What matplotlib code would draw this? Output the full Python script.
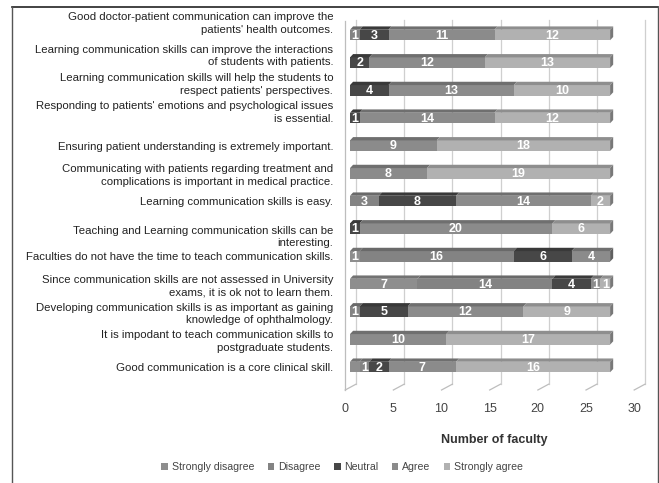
import matplotlib
matplotlib.use("Agg")
import matplotlib.pyplot as plt
import matplotlib.transforms as mtransforms
from matplotlib.patches import Polygon, Patch
from matplotlib.lines import Line2D
import numpy as np

plt.rcParams['font.family'] = ['Liberation Sans', 'DejaVu Sans']

statements = [
    "Good doctor-patient communication can improve the\npatients' health outcomes.",
    "Learning communication skills can improve the interactions\nof students with patients.",
    "Learning communication skills will help the students to\nrespect patients' perspectives.",
    "Responding to patients' emotions and psychological issues\nis essential.",
    "Ensuring patient understanding is extremely important.",
    "Communicating with patients regarding treatment and\ncomplications is important in medical practice.",
    "Learning communication skills is easy.",
    "Teaching and Learning communication skills can be\ninteresting.",
    "Faculties do not have the time to teach communication skills.",
    "Since communication skills are not assessed in University\nexams, it is ok not to learn them.",
    "Developing communication skills is as important as gaining\nknowledge of ophthalmology.",
    "It is impodant to teach communication skills to\npostgraduate students.",
    "Good communication is a core clinical skill.",
]

responses = ["Strongly disagree", "Disagree", "Neutral", "Agree", "Strongly agree"]

strongly_disagree = [0, 0, 0, 0, 0, 0, 0, 0, 1, 7, 0, 0, 1]
disagree          = [1, 0, 0, 0, 0, 0, 3, 0, 16, 14, 1, 0, 1]
neutral           = [3, 2, 4, 1, 0, 0, 8, 1, 6, 4, 5, 0, 2]
agree             = [11, 12, 13, 14, 9, 8, 14, 20, 4, 1, 12, 10, 7]
strongly_agree    = [12, 13, 10, 12, 18, 19, 2, 6, 0, 1, 9, 17, 16]

colors = ["#8e8e8e", "#838383", "#474747", "#8b8b8b", "#b1b1b1"]

# data labels that are hidden (row, response)
hidden_labels = {(12, 0)}

# vertical nudge (px) for the crowded statement labels
label_shift = [14, 9, 8, 8, 0, 0, 0, -6, 0, 0, 0, 0, 0]

fig = plt.figure(figsize=(6.59, 4.83), dpi=100)
ax = fig.add_axes([350 / 659, 93 / 483, 289 / 659, 372 / 483])

series = [strongly_disagree, disagree, neutral, agree, strongly_agree]
y = np.arange(len(statements))
h = 0.38
dx, dy = 0.32, 0.12  # depth of the pseudo-3D faces

def shade(c, f):
    r, g, b = matplotlib.colors.to_rgb(c)
    return (r * f, g * f, b * f)

left = np.zeros(len(statements))
totals = np.sum(series, axis=0)
for k, (vals, col) in enumerate(zip(series, colors)):
    vals = np.array(vals, dtype=float)
    ax.barh(y, vals, left=left, height=h, color=col, zorder=3)
    for i in range(len(y)):
        if vals[i] <= 0:
            continue
        l, w, top = left[i], vals[i], y[i] - h / 2
        ax.add_patch(Polygon([(l, top), (l + w, top), (l + w + dx, top - dy), (l + dx, top - dy)],
                             closed=True, facecolor=shade(col, 0.8), edgecolor='none', zorder=3))
        if np.isclose(l + w, totals[i]):
            ax.add_patch(Polygon([(l + w, top), (l + w + dx, top - dy), (l + w + dx, top + h - dy), (l + w, top + h)],
                                 closed=True, facecolor=shade(col, 0.68), edgecolor='none', zorder=3))
        if (i, k) not in hidden_labels:
            ax.text(l + w / 2, y[i] + 0.02, str(int(w)), ha='center', va='center', color='white',
                    fontsize=9, fontweight='bold', zorder=4)
    left += vals

ax.set_xlim(0, 30)
ax.set_ylim(12.83, -0.614)

# back-wall gridlines, left wall and floor
shift = mtransforms.ScaledTranslation(6 / 100, 0, fig.dpi_scale_trans)
for xv in range(0, 31, 5):
    ax.plot([xv, xv], [12.62, -0.55], color="#cfcfcf", lw=0.9, zorder=1,
            transform=ax.transData + shift, clip_on=False)
    ax.plot([xv - 0.5, xv + 0.62], [12.83, 12.62], color="#bdbdbd", lw=0.9, zorder=1, clip_on=False)
ax.plot([-0.5, -0.5], [12.83, -0.5], color="#bdbdbd", lw=0.9, zorder=1, clip_on=False)

for s in ax.spines.values():
    s.set_visible(False)

ax.set_xticks(range(0, 31, 5))
ax.tick_params(axis='x', length=0, pad=9, labelsize=9, labelcolor="#444444")
left_shift = mtransforms.ScaledTranslation(-5 / 100, 0, fig.dpi_scale_trans)
for lab in ax.get_xticklabels():
    lab.set_transform(lab.get_transform() + left_shift)

ax.set_yticks(y)
ax.set_yticklabels(statements, fontsize=8.2, color="#222222", linespacing=1.32)
ax.tick_params(axis='y', length=0, pad=12)
for lab, s in zip(ax.get_yticklabels(), label_shift):
    lab.set_transform(lab.get_transform() + mtransforms.ScaledTranslation(0, s / 100, fig.dpi_scale_trans))

ax.set_xlabel("Number of faculty", fontsize=9, fontweight='bold', color="#333333", labelpad=14)

handles = [Patch(facecolor=c, edgecolor='none') for c in colors]
fig.legend(handles, responses, loc='center', bbox_to_anchor=(342 / 659, 1 - 467 / 483), ncol=5,
           frameon=False, fontsize=7.6, handlelength=0.65, handleheight=0.65, handletextpad=0.3,
           columnspacing=1.3, labelcolor="#444444")

# outer frame
fig.add_artist(Line2D([12 / 659, 658 / 659], [1 - 7 / 483, 1 - 7 / 483], color="#222222", lw=1.2))
fig.add_artist(Line2D([12 / 659, 12 / 659], [0, 1 - 7 / 483], color="#555555", lw=1.0))
fig.add_artist(Line2D([658 / 659, 658 / 659], [0, 1 - 7 / 483], color="#555555", lw=1.0))

fig.savefig("out.png", dpi=100)
